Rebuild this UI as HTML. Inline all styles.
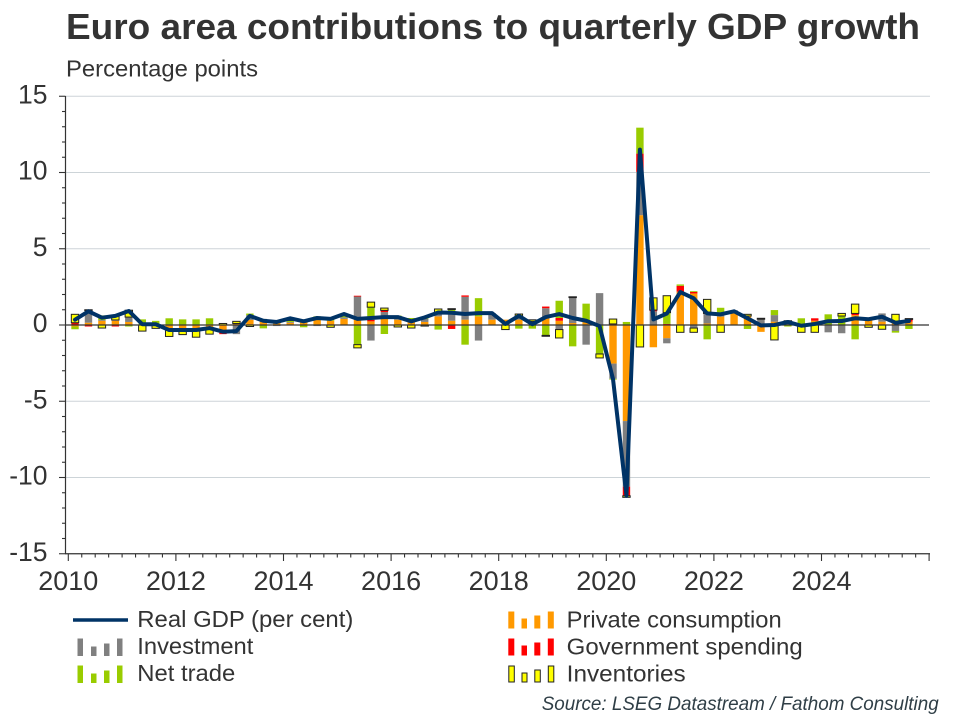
<!DOCTYPE html>
<html>
<head>
<meta charset="utf-8">
<style>
  html, body { margin: 0; padding: 0; background: #ffffff; }
  body { width: 960px; height: 720px; overflow: hidden; }
  svg { display: block; font-family: "Liberation Sans", Arial, sans-serif; }
</style>
</head>
<body>
<svg id="chart" width="960" height="720" viewBox="0 0 960 720" xmlns="http://www.w3.org/2000/svg">
  <rect x="0" y="0" width="960" height="720" fill="#ffffff"/>
  <!-- Title -->
  <text x="66" y="39" font-size="36" font-weight="bold" fill="#333333" textLength="854" lengthAdjust="spacingAndGlyphs">Euro area contributions to quarterly GDP growth</text>
  <text x="66" y="76.5" font-size="23.5" fill="#333333" textLength="192" lengthAdjust="spacingAndGlyphs">Percentage points</text>

  <!-- Gridlines -->
  <g stroke="#cdd4d8" stroke-width="1">
    <line x1="66" y1="96.25" x2="930" y2="96.25"/>
    <line x1="66" y1="172.5" x2="930" y2="172.5"/>
    <line x1="66" y1="248.75" x2="930" y2="248.75"/>
    <line x1="66" y1="401.25" x2="930" y2="401.25"/>
    <line x1="66" y1="477.5" x2="930" y2="477.5"/>
  </g>

  <g id="bars"></g>

  <!-- zero line -->
  <line x1="66" y1="325" x2="929" y2="325" stroke="#333333" stroke-width="1.2"/>

  <!-- Axes -->
  <g stroke="#333333" stroke-width="1.2" id="axes">
    <line x1="65.5" y1="96" x2="65.5" y2="554"/>
    <line x1="65" y1="553.75" x2="930" y2="553.75"/>
  </g>
  <g id="ticks" stroke="#333333" stroke-width="1.1"></g>

  <!-- Y labels -->
  <g font-size="26.5" fill="#333333" text-anchor="end">
    <text x="47.5" y="103.5">15</text>
    <text x="47.5" y="179.5">10</text>
    <text x="47.5" y="256">5</text>
    <text x="47.5" y="332">0</text>
    <text x="47.5" y="408.5">-5</text>
    <text x="47.5" y="484.5">-10</text>
    <text x="47.5" y="561">-15</text>
  </g>
  <!-- X labels -->
  <g font-size="27" fill="#333333" text-anchor="middle">
    <text x="68.3" y="590">2010</text>
    <text x="175.9" y="590">2012</text>
    <text x="283.5" y="590">2014</text>
    <text x="391.1" y="590">2016</text>
    <text x="498.7" y="590">2018</text>
    <text x="606.3" y="590">2020</text>
    <text x="713.9" y="590">2022</text>
    <text x="821.5" y="590">2024</text>
  </g>

  <polyline id="gdp" fill="none" stroke="#003366" stroke-width="4" stroke-linejoin="round" stroke-linecap="round" points=""/>

  <!-- Legend -->
  <line x1="73" y1="620" x2="128" y2="620" stroke="#003366" stroke-width="3.5"/>
  <text x="137.3" y="627" font-size="23.5" fill="#333333" textLength="216" lengthAdjust="spacingAndGlyphs">Real GDP (per cent)</text>

  <g fill="#808080">
    <rect x="77.5" y="638.5" width="5.5" height="17.5"/>
    <rect x="91" y="646.5" width="5.5" height="9.5"/>
    <rect x="104" y="643.5" width="5.5" height="12.5"/>
    <rect x="117" y="638.5" width="5.5" height="17.5"/>
  </g>
  <text x="137.3" y="654" font-size="23.5" fill="#333333" textLength="116" lengthAdjust="spacingAndGlyphs">Investment</text>

  <g fill="#99cc00">
    <rect x="77.5" y="665.5" width="5.5" height="17.5"/>
    <rect x="91" y="673.5" width="5.5" height="9.5"/>
    <rect x="104" y="670.5" width="5.5" height="12.5"/>
    <rect x="117" y="665.5" width="5.5" height="17.5"/>
  </g>
  <text x="137.3" y="681" font-size="23.5" fill="#333333" textLength="98" lengthAdjust="spacingAndGlyphs">Net trade</text>

  <g fill="#ff9900">
    <rect x="508.3" y="611.5" width="6" height="17"/>
    <rect x="521.5" y="618.5" width="5.5" height="10"/>
    <rect x="534.3" y="615.5" width="6" height="13"/>
    <rect x="547.8" y="611.5" width="6" height="17"/>
  </g>
  <text x="566.7" y="627.5" font-size="23.5" fill="#333333" textLength="215" lengthAdjust="spacingAndGlyphs">Private consumption</text>

  <g fill="#ff0000">
    <rect x="508.3" y="638.5" width="6" height="17"/>
    <rect x="521.5" y="645.5" width="5.5" height="10"/>
    <rect x="534.3" y="642.5" width="6" height="13"/>
    <rect x="547.8" y="638.5" width="6" height="17"/>
  </g>
  <text x="566.7" y="654.5" font-size="23.5" fill="#333333" textLength="236" lengthAdjust="spacingAndGlyphs">Government spending</text>

  <g fill="#ffff00" stroke="#222222" stroke-width="1">
    <rect x="508.8" y="666" width="5.5" height="16"/>
    <rect x="522" y="673" width="5" height="9"/>
    <rect x="534.8" y="670" width="5.5" height="12"/>
    <rect x="548.3" y="666" width="5.5" height="16"/>
  </g>
  <text x="566.7" y="681.5" font-size="23.5" fill="#333333" textLength="119" lengthAdjust="spacingAndGlyphs">Inventories</text>

  <text x="541.7" y="710" font-size="19" font-style="italic" fill="#2f3e46" textLength="397" lengthAdjust="spacingAndGlyphs">Source: LSEG Datastream / Fathom Consulting</text>
</svg>
<script>
(function(){
  var NS = "http://www.w3.org/2000/svg";
  // [gdp, pc, inv, gov, nt, invt]
  var d = [
  [0.35,-0.1,0,0.15,-0.18,0.55],
  [0.9,0.15,0.7,-0.1,0.1,0.05],
  [0.48,0.28,0.05,0,0.3,-0.2],
  [0.6,0.28,0.05,-0.1,0,0.3],
  [0.92,0.2,0.32,0,-0.1,0.45],
  [0.05,0,0,0,0.37,-0.4],
  [0.05,0.05,0,0,0.22,-0.22],
  [-0.33,-0.35,0,0,0.44,-0.4],
  [-0.33,-0.33,0,0,0.37,-0.3],
  [-0.33,-0.4,0,0,0.37,-0.4],
  [-0.2,-0.3,0,0,0.44,-0.3],
  [-0.44,-0.5,0,-0.1,0,0.1],
  [-0.4,0.1,-0.6,0,0,0.14],
  [0.6,0.33,0.32,0,0.1,-0.1],
  [0.28,0.2,0.2,0,-0.22,0],
  [0.2,0.2,-0.07,0,0,0.02],
  [0.44,0.15,0.05,0,0.1,0.15],
  [0.24,0.2,0,0,-0.15,0.1],
  [0.46,0.37,-0.07,0,0.2,0],
  [0.4,0.28,0,0,0.2,-0.15],
  [0.72,0.4,0.1,0,0.22,0],
  [0.4,0.46,1.41,0.05,-1.29,-0.21],
  [0.46,0.24,-1.02,0.1,0.83,0.33],
  [0.52,0.46,0.39,0.11,-0.59,0.15],
  [0.52,0.35,0.05,0,0.22,-0.13],
  [0.24,0.28,0,0,0.18,-0.2],
  [0.5,0.2,0.2,0,0.1,-0.07],
  [0.82,0.57,0.28,0,-0.3,0.2],
  [0.8,0.28,0.55,-0.26,0.22,0.02],
  [0.72,0.35,1.5,0.09,-1.29,0],
  [0.78,0.57,-1.02,0,1.19,0],
  [0.78,0.35,0.43,0,0,0],
  [0.07,0.35,0,0,0,-0.3],
  [0.6,0.35,0.22,0,-0.24,0.15],
  [0.05,0.24,0,0,-0.24,0.1],
  [0.52,0.46,0.64,0.11,-0.68,-0.06],
  [0.72,0.28,-0.3,0.18,1.13,-0.55],
  [0.46,0.13,1.67,0,-1.4,0.05],
  [0.28,0.24,-1.29,0,1.16,0],
  [-0.07,0,2.09,0,-1.9,-0.26],
  [-3.55,-2.53,-1.0,0.07,-0.05,0.32],
  [-11.2,-6.3,-4.3,-0.6,0.2,-0.1],
  [11.5,7.2,2.84,1.2,1.7,-1.44],
  [0.37,-1.46,0.9,0.08,0,0.8],
  [0.75,-0.87,-0.33,0.07,0.74,1.11],
  [2.16,2.18,0,0.39,0.09,-0.48],
  [1.75,2.07,-0.2,0.11,0.04,-0.28],
  [0.76,0.1,0.66,0,-0.94,0.92],
  [0.7,0.55,0.1,0,0.48,-0.48],
  [0.9,0.87,0.1,0,0,0],
  [0.44,0.59,0,0,-0.26,0.11],
  [-0.03,-0.45,0.38,0,0,0.06],
  [0.0,0.22,0.43,0,0.33,-0.98],
  [0.2,0,0.24,0,-0.1,0.04],
  [-0.05,0,0,0,0.44,-0.48],
  [0.07,0.28,0,0.16,0,-0.48],
  [0.25,0,-0.48,0,0.7,0],
  [0.26,0,-0.54,0,0.59,0.17],
  [0.44,0.65,0,0.11,-0.94,0.61],
  [0.38,0.44,0,0,0,-0.15],
  [0.54,0.22,0.54,0,0,-0.28],
  [0.15,0.22,-0.39,0,-0.11,0.48],
  [0.26,0.22,0,0.17,-0.26,0.03]
  ];
  var colors = ["#ff9900","#808080","#ff0000","#99cc00","#ffff00"];
  var x0 = 68.3, q = 13.45, y0 = 325, s = 15.25, bw = 7.4;
  function X(i){ return x0 + q*(i+0.5); }
  function Y(v){ return y0 - v*s; }
  var bars = document.getElementById("bars");
  var pts = [];
  for (var i=0;i<d.length;i++){
    var cx = X(i), pos = 0, neg = 0;
    for (var k=0;k<5;k++){
      var v = d[i][k+1];
      if (!v) continue;
      var a, b;
      if (v > 0){ a = pos; b = pos + v; pos = b; }
      else { a = neg; b = neg + v; neg = b; }
      var yt = Y(Math.max(a,b)), yb = Y(Math.min(a,b));
      var r = document.createElementNS(NS,"rect");
      r.setAttribute("x", (cx - bw/2).toFixed(2));
      r.setAttribute("y", yt.toFixed(2));
      r.setAttribute("width", bw);
      r.setAttribute("height", Math.max(yb-yt,0.8).toFixed(2));
      r.setAttribute("fill", colors[k]);
      if (k === 4){ r.setAttribute("stroke","#222222"); r.setAttribute("stroke-width","1"); }
      bars.appendChild(r);
    }
    pts.push(cx.toFixed(2)+","+Y(d[i][0]).toFixed(2));
  }
  document.getElementById("gdp").setAttribute("points", pts.join(" "));
  // ticks
  var t = document.getElementById("ticks");
  function ln(x1,y1,x2,y2){
    var l = document.createElementNS(NS,"line");
    l.setAttribute("x1",x1); l.setAttribute("y1",y1);
    l.setAttribute("x2",x2); l.setAttribute("y2",y2);
    t.appendChild(l);
  }
  for (var v=-15; v<=15; v++){
    var yy = Y(v);
    if (v % 5 === 0) ln(59, yy, 65.5, yy); else ln(62, yy, 65.5, yy);
  }
  for (var j=0;j<=64;j++){
    var xx = x0 + q*j;
    if (j % 8 === 0) ln(xx, 553.75, xx, 561); else ln(xx, 553.75, xx, 557.5);
  }
})();
</script>
</body>
</html>
